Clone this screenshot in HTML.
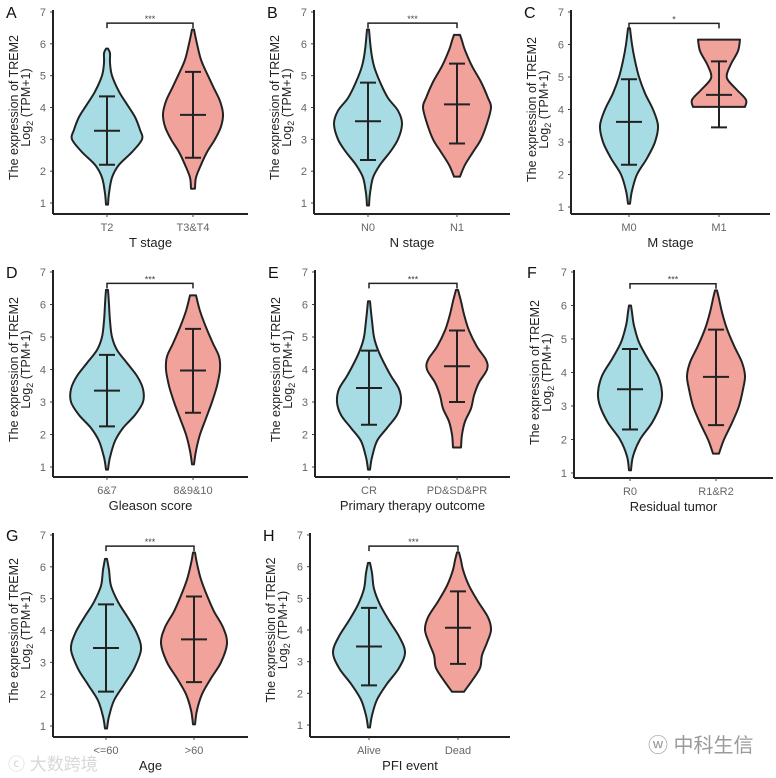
<!DOCTYPE html>
<html><head><meta charset="utf-8"><style>
html,body{margin:0;padding:0;background:#fff}
svg{display:block;font-family:"Liberation Sans","Noto Sans CJK SC",sans-serif}
</style></head><body>
<svg id="fig" width="776" height="778" viewBox="0 0 776 778" xmlns="http://www.w3.org/2000/svg">
<text x="8" y="770" font-size="17" fill="#d8d8d8">ⓒ 大数跨境</text>
<text x="648" y="752" font-size="20" fill="#9a9a9a">ⓦ 中科生信</text>
</svg>
<script>
// ---- data ----
const panelLetters = ["A","B","C","D","E","F","G","H"];
const xTitles = ["T stage","N stage","M stage","Gleason score","Primary therapy outcome","Residual tumor","Age","PFI event"];
const categories = [["T2","T3&T4"],["N0","N1"],["M0","M1"],["6&7","8&9&10"],["CR","PD&SD&PR"],["R0","R1&R2"],["<=60",">60"],["Alive","Dead"]];
const sigLabels = ["***","***","*","***","***","***","***","***"];
const yTicks = [1,2,3,4,5,6,7];
const means = [[3.27,3.77],[3.57,4.1],[3.62,4.45],[3.35,3.97],[3.43,4.1],[3.5,3.87],[3.45,3.72],[3.48,4.07]];
const lowers = [[2.2,2.42],[2.35,2.87],[2.3,3.45],[2.25,2.67],[2.3,3.0],[2.3,2.43],[2.08,2.38],[2.25,2.93]];
const uppers = [[4.35,5.12],[4.78,5.38],[4.93,5.48],[4.45,5.25],[4.58,5.2],[4.7,5.28],[4.82,5.07],[4.7,5.22]];
// density profiles: [value, relative density]
const densities = [
 [[[0.95,1],[1.3,2],[1.8,5],[2.2,12],[2.6,25],[3.0,35],[3.3,33],[3.7,28],[4.1,20],[4.5,12],[5.0,5],[5.4,3],[5.7,3],[5.85,1]],
  [[1.45,2],[1.8,3],[2.2,8],[2.6,14],[3.0,22],[3.4,28],[3.8,30],[4.2,27],[4.6,21],[5.0,15],[5.5,8],[6.0,4],[6.45,1]]],
 [[[0.92,1],[1.3,2],[1.8,5],[2.2,12],[2.6,22],[3.0,30],[3.5,34],[3.9,30],[4.3,20],[4.8,12],[5.3,6],[5.8,3],[6.45,1]],
  [[1.83,3],[2.2,8],[2.6,16],[3.0,24],[3.5,30],[4.0,34],[4.3,31],[4.8,24],[5.3,15],[5.8,8],[6.1,5],[6.28,3]]],
 [[[1.1,1],[1.5,3],[2.0,8],[2.5,18],[3.0,26],[3.5,29],[4.0,24],[4.5,16],[5.0,10],[5.5,6],[6.0,3],[6.5,1]],
  [[4.08,26],[4.3,27],[4.6,18],[4.9,9],[5.1,8],[5.4,12],[5.8,19],[6.15,21]]],
 [[[0.92,1],[1.3,3],[1.8,8],[2.2,16],[2.6,28],[3.0,36],[3.4,36],[3.8,30],[4.2,20],[4.6,10],[5.0,5],[5.5,3],[6.0,2],[6.45,1]],
  [[1.08,1],[1.5,3],[2.0,7],[2.5,13],[3.0,19],[3.5,24],[4.0,27],[4.4,26],[4.8,20],[5.3,13],[5.8,7],[6.28,3]]],
 [[[0.92,1],[1.3,3],[1.8,8],[2.2,18],[2.6,28],[3.0,32],[3.4,30],[3.8,22],[4.2,15],[4.6,9],[5.0,5],[5.5,3],[6.1,1]],
  [[1.6,4],[2.0,5],[2.4,8],[2.8,14],[3.2,17],[3.6,22],[4.0,30],[4.3,29],[4.7,20],[5.2,12],[5.7,7],[6.1,4],[6.45,1]]],
 [[[1.08,1],[1.5,3],[2.0,10],[2.5,22],[3.0,30],[3.4,32],[3.9,28],[4.4,18],[4.9,9],[5.4,4],[5.8,2],[6.0,1]],
  [[1.58,3],[2.0,8],[2.5,16],[3.0,23],[3.5,27],[3.9,29],[4.3,26],[4.8,18],[5.3,11],[5.8,6],[6.2,3],[6.45,1]]],
 [[[0.92,1],[1.3,3],[1.8,8],[2.3,18],[2.8,28],[3.4,35],[3.9,31],[4.4,22],[4.9,12],[5.4,5],[5.9,3],[6.25,1]],
  [[1.05,1],[1.5,3],[2.0,8],[2.5,17],[3.0,27],[3.6,33],[4.1,29],[4.6,20],[5.1,13],[5.6,7],[6.1,3],[6.45,1]]],
 [[[0.92,1],[1.3,3],[1.8,8],[2.3,18],[2.8,30],[3.3,36],[3.8,30],[4.3,20],[4.8,11],[5.3,5],[5.8,3],[6.12,1]],
  [[2.05,6],[2.4,14],[2.8,22],[3.2,24],[3.6,29],[4.0,33],[4.4,30],[4.9,20],[5.4,11],[5.9,5],[6.2,3],[6.45,1]]]
];
const bracketValue = 6.65;
// ---- layout ----
const layout = [
 {ax:53,y7:12,y1:203,xa:214,xe:248,c:[107,193]},
 {ax:314,y7:12,y1:203,xa:214,xe:510,c:[368,457]},
 {ax:571,y7:12,y1:207,xa:214,xe:770,c:[629,719]},
 {ax:53,y7:272,y1:467,xa:477,xe:248,c:[107,193]},
 {ax:315,y7:272,y1:467,xa:477,xe:510,c:[369,457]},
 {ax:574,y7:272,y1:473,xa:478,xe:773,c:[630,716]},
 {ax:53,y7:535,y1:726,xa:737,xe:248,c:[106,194]},
 {ax:310,y7:535,y1:725,xa:737,xe:510,c:[369,458]}
];
const fills = ["#a8dce5","#f1a39b"];
const NS="http://www.w3.org/2000/svg";
const svg=document.getElementById('fig');
function mk(tag,attrs,parent){const e=document.createElementNS(NS,tag);for(const k in attrs)e.setAttribute(k,attrs[k]);(parent||svg).appendChild(e);return e;}
function smooth(pts){ // catmull-rom
 let d="";
 for(let i=0;i<pts.length-1;i++){
  const p0=pts[Math.max(0,i-1)],p1=pts[i],p2=pts[i+1],p3=pts[Math.min(pts.length-1,i+2)];
  const c1=[p1[0]+(p2[0]-p0[0])/6,p1[1]+(p2[1]-p0[1])/6];
  const c2=[p2[0]-(p3[0]-p1[0])/6,p2[1]-(p3[1]-p1[1])/6];
  d+=` C${c1[0].toFixed(1)},${c1[1].toFixed(1)} ${c2[0].toFixed(1)},${c2[1].toFixed(1)} ${p2[0].toFixed(1)},${p2[1].toFixed(1)}`;
 }
 return d;
}
layout.forEach((L,p)=>{
 const g=mk('g',{});
 
 
 const ys=v=>L.y1-(v-1)*(L.y1-L.y7)/6;
 const t=mk('text',{x:L.ax-47,y:L.y7+6,'font-size':16,fill:'#111'},g);t.textContent=panelLetters[p];
 
 
 const mid=(L.y7+L.y1)/2;
 const t1=mk('text',{transform:`translate(${L.ax-35},${mid}) rotate(-90)`,'text-anchor':'middle','font-size':12.5,fill:'#222'},g);
 t1.textContent='The expression of TREM2';
 
 
 const t2=mk('text',{transform:`translate(${L.ax-23},${mid}) rotate(-90)`,'text-anchor':'middle','font-size':12.5,fill:'#222'},g);
 t2.innerHTML='Log<tspan font-size="9" dy="3">2</tspan><tspan dy="-3"> (TPM+1)</tspan>';
 
 
 yTicks.forEach(v=>{
  const y=ys(v);
  const tk=mk('line',{x1:L.ax-3,x2:L.ax,y1:y,y2:y,stroke:'#444','stroke-width':1},g);
  
  
  const tl=mk('text',{x:L.ax-7,y:y+4,'text-anchor':'end','font-size':11,fill:'#666'},g);tl.textContent=v;
  
  
 });
 const ya=mk('line',{x1:L.ax,x2:L.ax,y1:L.y7-2,y2:L.xa,stroke:'#222','stroke-width':2},g);
 
 
 const xa=mk('line',{x1:L.ax,x2:L.xe,y1:L.xa,y2:L.xa,stroke:'#222','stroke-width':2},g);
 
 
 [0,1].forEach(k=>{
  const cx=L.c[k];
  const prof=densities[p][k];
  const right=prof.map(d=>[cx+d[1],ys(d[0])]);
  const left=prof.slice().reverse().map(d=>[cx-d[1],ys(d[0])]);
  let d=`M${right[0][0]},${right[0][1]}`+smooth(right)+` L${left[0][0]},${left[0][1]}`+smooth(left)+' Z';
  const v=mk('path',{d:d,fill:fills[k],stroke:'#222','stroke-width':2,'stroke-linejoin':'round'},g);
  
  
  const yl=ys(lowers[p][k]),yu=ys(uppers[p][k]),ym=ys(means[p][k]);
  const eb=mk('path',{d:`M${cx},${yl}V${yu}M${cx-8},${yl}H${cx+8}M${cx-8},${yu}H${cx+8}M${cx-13},${ym}H${cx+13}`,stroke:'#222','stroke-width':2,fill:'none'},g);
  
  
  const tk=mk('line',{x1:cx,x2:cx,y1:L.xa,y2:L.xa+3,stroke:'#444'},g);
  
  
  const cl=mk('text',{x:cx,y:L.xa+17,'text-anchor':'middle','font-size':11,fill:'#666'},g);cl.textContent=categories[p][k];
  
  
 });
 const by=ys(bracketValue);
 const br=mk('path',{d:`M${L.c[0]},${by+5}V${by}H${L.c[1]}V${by+5}`,stroke:'#222','stroke-width':1.5,fill:'none'},g);
 
 
 const st=mk('text',{x:(L.c[0]+L.c[1])/2,y:by-1,'text-anchor':'middle','font-size':9,fill:'#444'},g);st.textContent=sigLabels[p];
 
 
 const xt=mk('text',{x:(L.ax+L.xe)/2,y:L.xa+33,'text-anchor':'middle','font-size':13,fill:'#222'},g);xt.textContent=xTitles[p];
 
 
});
</script>
</body></html>
